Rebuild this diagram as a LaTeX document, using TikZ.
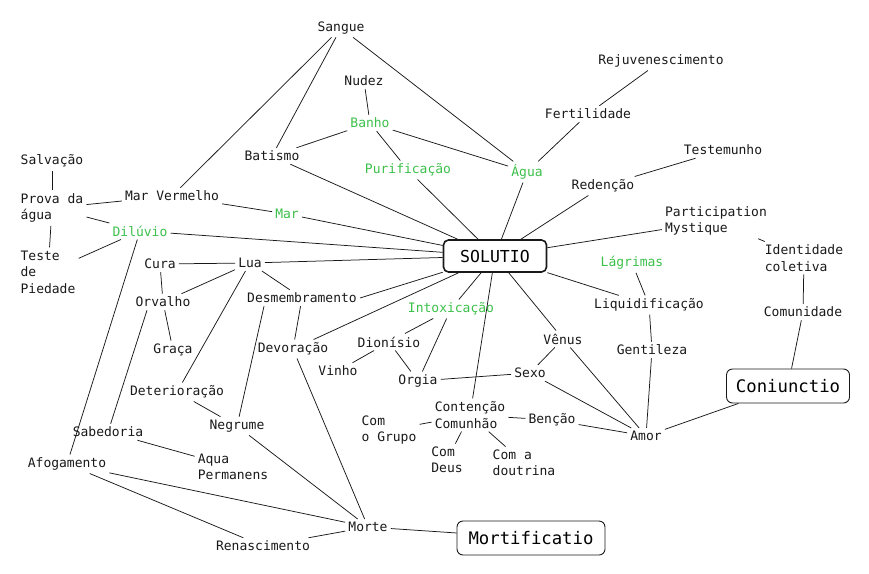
\documentclass[tikz,border=0pt]{standalone}
\usepackage{fontspec}
\setmonofont{DejaVu Sans Mono}
\definecolor{grn}{RGB}{60,192,74}
\definecolor{ink}{RGB}{25,25,25}
\begin{document}
\begin{tikzpicture}[x=1pt,y=-1pt,
  t/.style={font=\ttfamily\fontsize{13}{16.5}\selectfont, text=ink, inner sep=3pt, align=left},
  g/.style={t, text=grn},
  mainbox/.style={draw=ink, line width=1.6pt, rounded corners=5pt, font=\ttfamily\fontsize{16.5}{20}\selectfont, minimum width=103pt, minimum height=32pt, inner sep=3pt},
  subbox/.style={draw=ink, line width=0.9pt, rounded corners=6pt, font=\ttfamily\fontsize{17.3}{20}\selectfont, minimum height=34pt, inner sep=3pt},
  ln/.style={draw=ink, line width=0.75pt}]
\useasboundingbox (0,0) rectangle (869,573);

\node[t] (sangue) at (341,28) {Sangue};
\node[t] (nudez) at (364,81) {Nudez};
\node[g] (banho) at (370,123) {Banho};
\node[t] (batismo) at (272,156) {Batismo};
\node[g] (purif) at (408,170) {Purificação};
\node[g] (agua) at (527,172) {Água};
\node[t] (rejuv) at (661,61) {Rejuvenescimento};
\node[t] (fert) at (588,114) {Fertilidade};
\node[t] (testem) at (723,150) {Testemunho};
\node[t] (reden) at (603,186) {Redenção};
\node[t] (salv) at (52,161) {Salvação};
\node[t] (prova) at (52,208) {Prova da\\água};
\node[t] (marverm) at (172,196) {Mar Vermelho};
\node[g] (mar) at (287,214) {Mar};
\node[g] (diluvio) at (140,231) {Dilúvio};
\node[t] (teste) at (48,272) {Teste\\de\\Piedade};
\node[mainbox] (solutio) at (495,256) {SOLUTIO};
\node[t] (partic) at (716,221) {Participation\\Mystique};
\node[t] (ident) at (804,258) {Identidade\\coletiva};
\node[g] (lagr) at (632,263) {Lágrimas};
\node[t] (cura) at (160,264) {Cura};
\node[t] (lua) at (250,263) {Lua};
\node[t] (orvalho) at (163,302) {Orvalho};
\node[t] (desmemb) at (302,298) {Desmembramento};
\node[g] (intox) at (451,309) {Intoxicação};
\node[t] (liquid) at (649,305) {Liquidificação};
\node[t] (comun) at (803,312) {Comunidade};
\node[t] (graca) at (173,350) {Graça};
\node[t] (devor) at (293,349) {Devoração};
\node[t] (dionis) at (389,342) {Dionísio};
\node[t] (venus) at (563,339) {Vênus};
\node[t] (gentil) at (652,350) {Gentileza};
\node[t] (vinho) at (338,371) {Vinho};
\node[t] (orgia) at (418,381) {Orgia};
\node[t] (sexo) at (530,373) {Sexo};
\node[subbox, minimum width=123pt] (coniunc) at (788,386) {Coniunctio};
\node[t] (deter) at (177,392) {Deterioração};
\node[t] (negrume) at (237,426) {Negrume};
\node[t] (sabed) at (108,432) {Sabedoria};
\node[t] (conten) at (470,415) {Contenção\\Comunhão};
\node[t] (bencao) at (552,420) {Benção};
\node[t] (amor) at (646,436) {Amor};
\node[t] (grupo) at (389,430) {Com\\o Grupo};
\node[t] (deus) at (447,460) {Com\\Deus};
\node[t] (doutr) at (524,463) {Com a\\doutrina};
\node[t] (aqua) at (233,467) {Aqua\\Permanens};
\node[t] (afog) at (67,464) {Afogamento};
\node[t] (morte) at (368,527) {Morte};
\node[subbox, minimum width=148pt] (mortif) at (531,538) {Mortificatio};
\node[t] (renasc) at (263,546) {Renascimento};

\path[ln]
 (sangue) edge (marverm)
 (sangue) edge (batismo)
 (sangue) edge (agua)
 (nudez) edge (banho)
 (banho) edge (batismo)
 (banho) edge (purif)
 (banho) edge (agua)
 (batismo) edge (solutio)
 (purif) edge (solutio)
 (agua) edge (solutio)
 (agua) edge (fert)
 (fert) edge (rejuv)
 (reden) edge (testem)
 (reden) edge (solutio)
 (partic) edge (solutio)
 (partic) edge (ident)
 (ident) edge (comun)
 (comun) edge (coniunc)
 (coniunc) edge (amor)
 (solutio) edge (liquid)
 (lagr) edge (liquid)
 (liquid) edge (gentil)
 (gentil) edge (amor)
 (venus) edge (amor)
 (sexo) edge (amor)
 (bencao) edge (amor)
 (conten) edge (bencao)
 (solutio) edge (venus)
 (venus) edge (sexo)
 (sexo) edge (orgia)
 (solutio) edge (conten)
 (conten) edge (grupo)
 (conten) edge (deus)
 (conten) edge (doutr)
 (solutio) edge (intox)
 (intox) edge (dionis)
 (intox) edge (orgia)
 (dionis) edge (vinho)
 (dionis) edge (orgia)
 (solutio) edge (devor)
 (solutio) edge (desmemb.east)
 (solutio) edge (lua)
 (solutio) edge (diluvio)
 (solutio) edge (mar)
 (mar) edge (marverm)
 (marverm) edge (prova)
 (prova) edge (salv)
 (prova) edge (teste)
 (prova) edge (diluvio)
 (diluvio) edge (teste)
 (diluvio) edge (afog)
 (lua) edge (cura)
 (lua) edge (orvalho)
 (lua) edge (deter)
 (lua) edge (desmemb)
 (cura) edge (orvalho)
 (orvalho) edge (graca)
 ([xshift=-16pt]orvalho.south) edge (sabed)
 ([xshift=-38pt]desmemb.south) edge (negrume)
 (desmemb) edge (devor)
 (devor) edge (morte)
 (deter) edge (negrume)
 (negrume) edge (morte)
 (sabed) edge (aqua)
 (afog) edge (morte)
 (afog) edge (renasc)
 (renasc) edge (morte)
 (morte) edge (mortif);
\end{tikzpicture}
\end{document}
